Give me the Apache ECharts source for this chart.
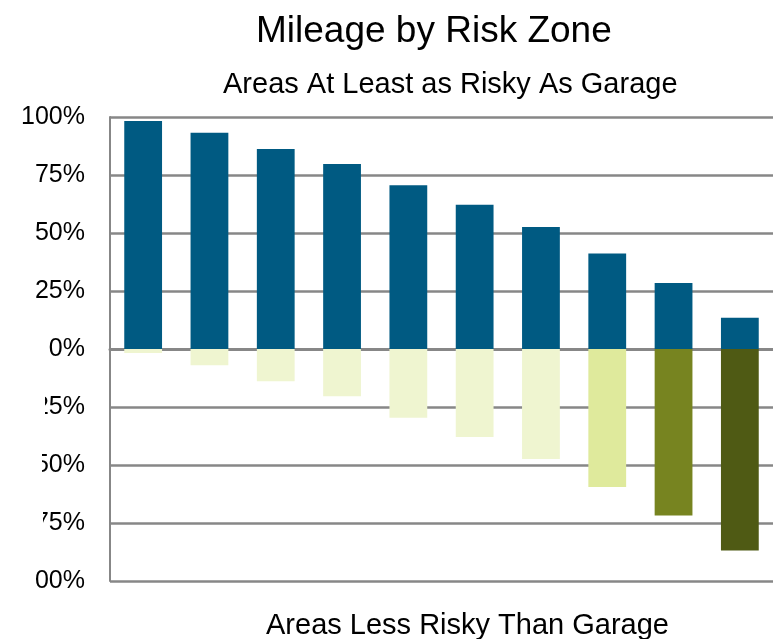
<!DOCTYPE html>
<html>
<head>
<meta charset="utf-8">
<script src="https://cdn.jsdelivr.net/npm/echarts@6/dist/echarts.min.js"></script>
<style>html,body{margin:0;padding:0;background:#fff}#c{width:773px;height:639px}</style>
</head>
<body>
<div id="c"></div>
<script>
const categories = ['Z1','Z2','Z3','Z4','Z5','Z6','Z7','Z8','Z9','Z10'];
const atLeastAsRisky = [98.3, 93.2, 86.2, 79.7, 70.6, 62.2, 52.6, 41.2, 28.4, 13.5];
const lessRisky = [-1.7, -7.0, -13.9, -20.4, -29.6, -37.9, -47.4, -59.5, -71.8, -86.9];
const yTicks = [-100, -75, -50, -25, 0, 25, 50, 75, 100];

const posColor = '#005A82';
const negColors = ['#EFF5D0','#EFF5D0','#EFF5D0','#EFF5D0','#EFF5D0','#EFF5D0','#EFF5D0','#DFEA9C','#778420','#4F5A14'];
const FONT = '"Liberation Sans", Arial, sans-serif';

const chart = echarts.init(document.getElementById('c'), null, {renderer: 'canvas'});
chart.setOption({
  animation: false,
  backgroundColor: '#fff',
  title: [
    {text: 'Mileage by Risk Zone', left: 251, top: 8, textStyle: {fontFamily: FONT, fontSize: 37, fontWeight: 'normal', color: '#000'}},
    {text: 'Areas At Least as Risky As Garage', left: 218, top: 65, textStyle: {fontFamily: FONT, fontSize: 29, fontWeight: 'normal', color: '#000'}},
    {text: 'Areas Less Risky Than Garage', left: 261, top: 606, textStyle: {fontFamily: FONT, fontSize: 29, fontWeight: 'normal', color: '#000'}}
  ],
  grid: {left: 110, right: -4, top: 117, bottom: 58, containLabel: false},
  xAxis: {
    type: 'category', data: categories,
    axisLine: {show: true, onZero: true, lineStyle: {color: '#878787', width: 3}},
    axisTick: {show: false}, axisLabel: {show: false}, splitLine: {show: false}
  },
  yAxis: {
    type: 'value', min: yTicks[0], max: yTicks[yTicks.length - 1], interval: 25,
    axisLine: {show: true, lineStyle: {color: '#878787', width: 2}},
    axisTick: {show: false},
    axisLabel: {formatter: '{value}%', fontFamily: FONT, fontSize: 25, color: '#000', margin: 25},
    splitLine: {show: true, lineStyle: {color: '#878787', width: 2.5}}
  },
  series: [
    {type: 'bar', name: 'At least as risky', data: atLeastAsRisky, barWidth: '57%', barGap: '-100%',
     itemStyle: {color: posColor}, z: 1},
    {type: 'bar', name: 'Less risky', data: lessRisky.map((v, i) => ({value: v, itemStyle: {color: negColors[i]}})),
     barWidth: '57%', barGap: '-100%', z: 1}
  ]
});

// partially masked negative tick labels, as in the cropped reference
const maskRight = {'-25': 45, '-50': 42, '-75': 43, '-100': 35};
const graphics = [];
Object.keys(maskRight).forEach(k => {
  const y = chart.convertToPixel({yAxisIndex: 0}, Number(k));
  graphics.push({type: 'rect', shape: {x: 0, y: y - 15, width: maskRight[k], height: 30}, style: {fill: '#fff'}, z: 100});
});
chart.setOption({graphic: graphics});
</script>
</body>
</html>
